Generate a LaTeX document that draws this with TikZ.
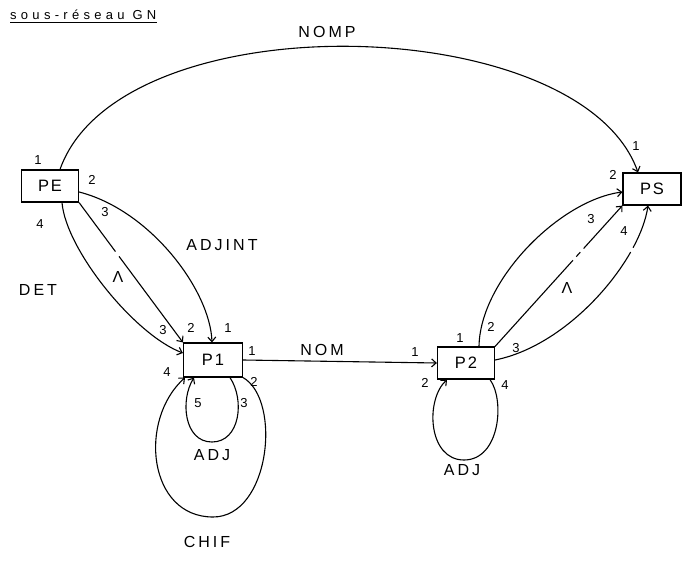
\documentclass[tikz,border=0pt]{standalone}
\usepackage{fontspec}
\setmainfont{Liberation Sans}
\newfontfamily\lsp[LetterSpace=19]{Liberation Sans}
\newfontfamily\bsp[LetterSpace=12]{Liberation Sans}
\newfontfamily\tsp[LetterSpace=33]{Liberation Sans}
\usetikzlibrary{arrows.meta}
\begin{document}
\begin{tikzpicture}[x=1pt,y=-1pt,
  box/.style={draw, line width=1.2pt, inner sep=0pt, minimum width=57pt, minimum height=32pt, font=\bsp\fontsize{16.5}{16.5}\selectfont},
  lbl/.style={inner sep=0pt, font=\lsp\fontsize{16}{16}\selectfont},
  num/.style={inner sep=0pt, font=\fontsize{13}{13}\selectfont},
  edge/.style={line width=1.1pt, -{Straight Barb[length=4.5pt,width=8pt]}}]
\useasboundingbox (0,0) rectangle (687,561);
% title
\node[inner sep=0pt, anchor=base west, font=\tsp\fontsize{13}{13}\selectfont] (title) at (10,20) {sous-réseau GN};
\draw[line width=1.2pt] ([yshift=-2pt]title.south west) -- ([yshift=-2pt]title.south east);
% nodes
\node[box] (PE) at (50,186) {PE};
\node[box, minimum width=59pt, minimum height=34pt] (P1) at (213,360) {P1};
\node[box] (P2) at (466,363) {P2};
\node[box, minimum width=58pt] (PS) at (652,189) {PS};
% NOMP
\draw[edge] ([xshift=10pt]PE.north) .. controls (120,0) and (580,10) .. ([xshift=-14pt]PS.north);
\node[lbl] (lnomp) at (327,32) {NOMP};
% PE -> P1
\draw[edge] ([xshift=12pt]PE.south) .. controls (66,250) and (135,335) .. ([yshift=7pt]P1.west);
\draw[edge, dash pattern=on 61pt off 6pt on 300pt] (PE.south east) -- (P1.north west);
\draw[edge] ([yshift=-6pt]PE.east) .. controls (150,210) and (210,290) .. ([xshift=-1pt]P1.north);
\node[lbl] (ldet) at (38,290) {DET};
\node[lbl] (ladjint) at (222,245) {ADJINT};
\node[lbl] (llam1) at (118,277) {Λ};
% P1 loops
\draw[edge] ([xshift=17pt]P1.south) .. controls (245,400) and (240,442) .. (212,442)
   .. controls (184,442) and (180,400) .. ([xshift=-19pt]P1.south);
\draw[edge] (P1.south east) .. controls (282,400) and (270,517) .. (213,517)
   .. controls (148,517) and (138,420) .. ([xshift=-28pt]P1.south);
\node[lbl] (ladj1) at (212,455) {ADJ};
\node[lbl] (lchif) at (207,542) {CHIF};
% P1 -> P2
\draw[edge] (P1.east) -- (P2.west);
\node[lbl] (lnom) at (322,350) {NOM};
% P2 loop
\draw[edge] ([xshift=24pt]P2.south) .. controls (505,400) and (500,460) .. (464,460)
   .. controls (428,460) and (425,400) .. ([xshift=-19pt]P2.south);
\node[lbl] (ladj2) at (462,470) {ADJ};
% P2 -> PS
\draw[edge] ([xshift=13pt]P2.north) .. controls (480,280) and (560,200) .. ([yshift=-3pt]PS.west);
\draw[edge, dash pattern=on 116pt off 5pt on 6pt off 5pt on 300pt] (P2.north east) -- (PS.south west);
\draw[edge, dash pattern=on 178pt off 5pt on 300pt] ([yshift=3pt]P2.east) .. controls (570,345) and (640,260) .. ([xshift=-4pt]PS.south);
\node[lbl] (llam2) at (567,288) {Λ};
% port numbers
\node[num] at (38,160) {1};
\node[num] at (92,180) {2};
\node[num] at (105,212) {3};
\node[num] at (40,224) {4};
\node[num] at (163,330) {3};
\node[num] at (191,328) {2};
\node[num] at (228,328) {1};
\node[num] at (252,351) {1};
\node[num] at (167,372) {4};
\node[num] at (254,382) {2};
\node[num] at (198,403) {5};
\node[num] at (244,403) {3};
\node[num] at (415,352) {1};
\node[num] at (460,338) {1};
\node[num] at (491,327) {2};
\node[num] at (516,348) {3};
\node[num] at (505,385) {4};
\node[num] at (425,383) {2};
\node[num] at (636,146) {1};
\node[num] at (613,175) {2};
\node[num] at (591,219) {3};
\node[num] at (624,231) {4};
\end{tikzpicture}
\end{document}
